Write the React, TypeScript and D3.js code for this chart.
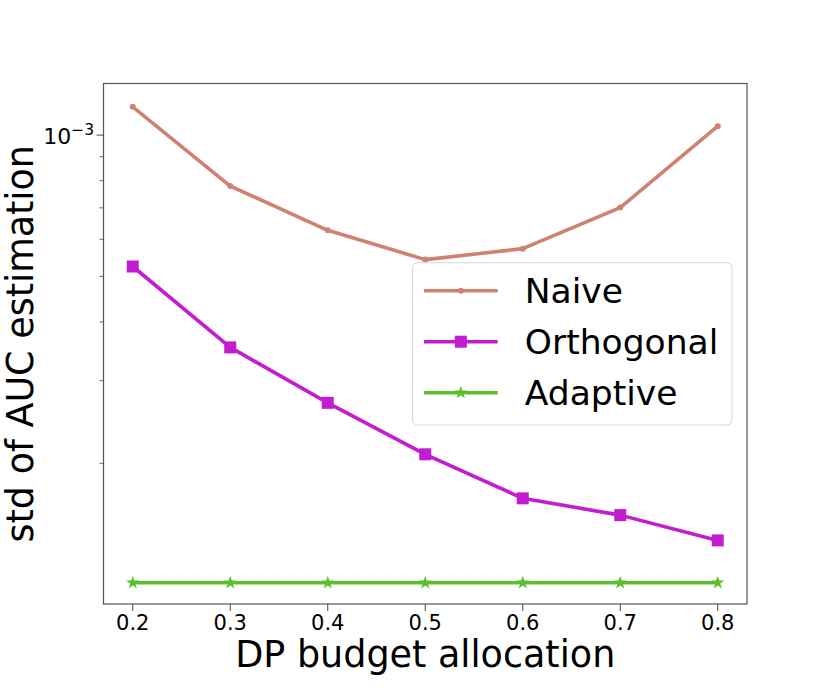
import * as d3 from "d3";
import { useRef, useEffect } from "react";

const budgets = [0.2, 0.3, 0.4, 0.5, 0.6, 0.7, 0.8];
const naive = [1.149e-3, 7.79e-4, 6.27e-4, 5.43e-4, 5.73e-4, 7.01e-4, 1.045e-3];
const orthogonal = [5.25e-4, 3.53e-4, 2.69e-4, 2.09e-4, 1.684e-4, 1.551e-4, 1.37e-4];
const adaptive = [1.113e-4, 1.113e-4, 1.113e-4, 1.113e-4, 1.113e-4, 1.113e-4, 1.113e-4];
const seriesNames = ["Naive", "Orthogonal", "Adaptive"];
const xTickLabels = ["0.2", "0.3", "0.4", "0.5", "0.6", "0.7", "0.8"];
const yMinorTicks = [2e-4, 3e-4, 4e-4, 5e-4, 6e-4, 7e-4, 8e-4, 9e-4];

const colors = ["#cf8272", "#c41ccf", "#5cbf2c"];
const font = "DejaVu Sans, sans-serif";

const width = 830;
const height = 692;
const left = 103.5;
const right = 747;
const top = 83.5;
const bottom = 604;

const App = () => {
  const ref = useRef<SVGSVGElement>(null);

  useEffect(() => {
    if (!ref.current) return;
    const svg = d3.select(ref.current);
    svg.selectAll("*").remove();

    const x = d3.scaleLinear().domain([0.17, 0.83]).range([left, right]);
    const y = d3.scaleLog().domain([1.003e-4, 1.288e-3]).range([bottom, top]);

    const series = [naive, orthogonal, adaptive];
    const line = d3.line<number>()
      .x((_, i) => x(budgets[i]))
      .y(d => y(d));

    // lines
    series.forEach((vals, s) => {
      svg.append("path")
        .attr("d", line(vals))
        .attr("fill", "none")
        .attr("stroke", colors[s])
        .attr("stroke-width", 3.6)
        .attr("stroke-linejoin", "round");
    });

    const star = d3.symbol().type(d3.symbolStar).size(55);

    const drawMarker = (g: any, s: number, cx: number, cy: number) => {
      if (s === 0) {
        g.append("circle").attr("cx", cx).attr("cy", cy).attr("r", 3).attr("fill", colors[0]);
      } else if (s === 1) {
        g.append("rect").attr("x", cx - 6).attr("y", cy - 6).attr("width", 12).attr("height", 12).attr("fill", colors[1]);
      } else {
        g.append("path").attr("d", star()).attr("transform", `translate(${cx},${cy})`).attr("fill", colors[2]);
      }
    };

    series.forEach((vals, s) => {
      vals.forEach((v, i) => drawMarker(svg, s, x(budgets[i]), y(v)));
    });

    // frame
    svg.append("rect")
      .attr("x", left).attr("y", top)
      .attr("width", right - left).attr("height", bottom - top)
      .attr("fill", "none").attr("stroke", "#555").attr("stroke-width", 1.2);

    // x ticks
    budgets.forEach((b, i) => {
      svg.append("line")
        .attr("x1", x(b)).attr("x2", x(b))
        .attr("y1", bottom).attr("y2", bottom + 7)
        .attr("stroke", "#444").attr("stroke-width", 1);
      svg.append("text")
        .attr("x", x(b)).attr("y", bottom + 26)
        .attr("text-anchor", "middle")
        .attr("font-family", font).attr("font-size", 21)
        .text(xTickLabels[i]);
    });

    // y ticks (log)
    yMinorTicks.forEach(t => {
      svg.append("line")
        .attr("x1", left - 4).attr("x2", left)
        .attr("y1", y(t)).attr("y2", y(t))
        .attr("stroke", "#444").attr("stroke-width", 0.8);
    });
    svg.append("line")
      .attr("x1", left - 7).attr("x2", left)
      .attr("y1", y(1e-3)).attr("y2", y(1e-3))
      .attr("stroke", "#444").attr("stroke-width", 1);
    const major = svg.append("text")
      .attr("x", left - 9.5).attr("y", y(1e-3) + 9.3)
      .attr("text-anchor", "end")
      .attr("font-family", font).attr("font-size", 22);
    major.append("tspan").text("10");
    major.append("tspan").attr("dy", -9.5).attr("font-size", 15.5).text("\u22123");

    // axis labels
    svg.append("text")
      .attr("x", (left + right) / 2).attr("y", 667)
      .attr("text-anchor", "middle")
      .attr("font-family", font).attr("font-size", 36.5)
      .text("DP budget allocation");
    svg.append("text")
      .attr("transform", `translate(33,${(top + bottom) / 2}) rotate(-90)`)
      .attr("text-anchor", "middle")
      .attr("font-family", font).attr("font-size", 36.5)
      .text("std of AUC estimation");

    // legend
    const lg = svg.append("g");
    lg.append("rect")
      .attr("x", 412.5).attr("y", 262.7)
      .attr("width", 732 - 412.5).attr("height", 425 - 262.7)
      .attr("rx", 5)
      .attr("fill", "white").attr("fill-opacity", 0.8)
      .attr("stroke", "#d6d6d6").attr("stroke-width", 1);
    seriesNames.forEach((name, s) => {
      const ly = 290.7 + s * 51;
      lg.append("line")
        .attr("x1", 424).attr("x2", 497.7)
        .attr("y1", ly).attr("y2", ly)
        .attr("stroke", colors[s]).attr("stroke-width", 3.6);
      drawMarker(lg, s, (424 + 497.7) / 2, ly);
      lg.append("text")
        .attr("x", 524.8).attr("y", ly + 12.5)
        .attr("font-family", font).attr("font-size", 34.5)
        .text(name);
    });
  }, []);

  return (
    <svg
      ref={ref}
      width={width}
      height={height}
      style={{ position: "absolute", left: 0, top: 0, background: "white" }}
    />
  );
};

export default App;
